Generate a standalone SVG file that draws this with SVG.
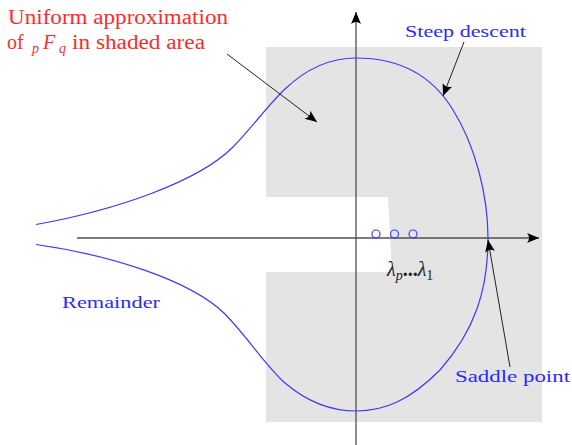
<svg xmlns="http://www.w3.org/2000/svg" width="572" height="445" viewBox="0 0 572 445">
<style>
text{font-family:"Liberation Serif","Times New Roman",serif}
.red{fill:#ff2a2a;font-size:20px}
.blue{fill:#2a2aff;font-size:17px}
.blk{fill:#222;font-size:20px}
.it{font-style:italic}
.axis{stroke:#505050;stroke-width:1.3;fill:none}
.lead{stroke:#222;stroke-width:1;fill:none}
.curve{stroke:#3a3aff;stroke-width:1.2;fill:none}
</style>
<defs>
<marker id="ah" markerUnits="userSpaceOnUse" viewBox="-13 -6 14 12" refX="0" refY="0" markerWidth="14" markerHeight="12" orient="auto">
<path d="M0,0 L-12,-5 Q-8,0 -12,5 Z" fill="#000"/>
</marker>
</defs>
<rect width="572" height="445" fill="#fff"/>
<g id="shaded">
<path d="M266,47 H542 V422 H266 V272 H392 L388,197 H266 Z" fill="#e4e4e4"/>
</g>
<g id="connectors">
<path class="axis" d="M77,238 H539" marker-end="url(#ah)"/>
<path class="axis" d="M356,445 V12" marker-end="url(#ah)"/>
<path class="curve" d="M36,224.5 C116,210 198,182 233,147 C250,130 268,105 285,89 C305,70 330,58 356,58 C395,58 430,72 453,110 C475,145 488,195 488,238 C488,290 475,330 440,370 C410,400 385,411 356,411 C330,411 305,400 285,383 C265,365 250,340 225,314 C190,280 110,255 36,244.5"/>
<path class="lead" d="M227,54 L317,122" marker-end="url(#ah)"/>
<path class="lead" d="M464,42 L443,96" marker-end="url(#ah)"/>
<path class="lead" d="M510,367 L488,240" marker-end="url(#ah)"/>
</g>
<g id="poles" fill="none" stroke="#3a3aff" stroke-width="1.2">
<circle cx="376" cy="234" r="4"/>
<circle cx="394.5" cy="234" r="4"/>
<circle cx="413" cy="234" r="4"/>
</g>
<g id="label-uniform">
<text class="red" x="8" y="24" textLength="220" lengthAdjust="spacingAndGlyphs">Uniform approximation</text>
<text class="red" y="49"><tspan x="7">of</tspan><tspan class="it" x="32" y="53" font-size="14">p</tspan><tspan class="it" x="43" y="49">F</tspan><tspan class="it" x="59" y="53" font-size="14">q</tspan><tspan x="72" y="49" textLength="133" lengthAdjust="spacingAndGlyphs">in shaded area</tspan></text>
</g>
<g id="label-steep">
<text class="blue" x="405" y="37" textLength="121" lengthAdjust="spacingAndGlyphs">Steep descent</text>
</g>
<g id="label-remainder">
<text class="blue" x="62" y="308" textLength="98" lengthAdjust="spacingAndGlyphs">Remainder</text>
</g>
<g id="label-saddle">
<text class="blue" x="455" y="382" textLength="115" lengthAdjust="spacingAndGlyphs">Saddle point</text>
</g>
<g id="label-lambda">
<text class="blk" x="387" y="276"><tspan class="it">λ</tspan><tspan class="it" font-size="14" dy="4">p</tspan><tspan dy="-4" font-weight="bold">...</tspan><tspan class="it">λ</tspan><tspan font-size="14" dy="4">1</tspan></text>
</g>
</svg>
